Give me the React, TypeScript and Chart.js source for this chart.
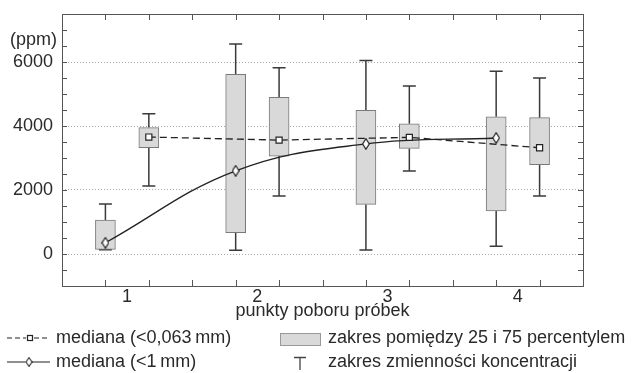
import React, { useEffect, useRef } from "react";
import { Chart, registerables } from "chart.js";

Chart.register(...registerables);

// categories (sampling points)
const groups = ["1", "2", "3", "4"];
const yTickLabels = [0, 2000, 4000, 6000];

// fraction < 1 mm
const coarseMin = [130, 115, 125, 240];
const coarseQ1 = [145, 666, 1550, 1345];
const coarseMedian = [350, 2600, 3440, 3625];
const coarseQ3 = [1060, 5615, 4490, 4290];
const coarseMax = [1560, 6560, 6050, 5710];

// fraction < 0,063 mm
const fineMin = [2125, 1810, 2590, 1810];
const fineQ1 = [3320, 3060, 3300, 2790];
const fineMedian = [3655, 3560, 3645, 3320];
const fineQ3 = [3950, 4896, 4070, 4260];
const fineMax = [4385, 5820, 5250, 5500];

const FONT = "'Liberation Sans', Arial, sans-serif";
const TXT = "#2a2a2a";
const BOX_FILL = "#d9d9d9";
const BOX_EDGE = "#7a7a7a";
const LINE = "#222";

const coarseX = (i: number) => i * 3;
const fineX = (i: number) => i * 3 + 1;

function makeDiamond(w: number, h: number) {
  const c = document.createElement("canvas");
  c.width = w;
  c.height = h;
  const g = c.getContext("2d")!;
  g.beginPath();
  g.moveTo(w / 2, 0.7);
  g.lineTo(w - 0.7, h / 2);
  g.lineTo(w / 2, h - 0.7);
  g.lineTo(0.7, h / 2);
  g.closePath();
  g.fillStyle = "#fff";
  g.fill();
  g.strokeStyle = LINE;
  g.lineWidth = 1.2;
  g.stroke();
  return c;
}

export default function App() {
  const ref = useRef<HTMLCanvasElement | null>(null);

  useEffect(() => {
    const canvas = ref.current;
    if (!canvas) return;
    const diamond = makeDiamond(8, 12);

    const boxes: { x: number; y: [number, number] }[] = [];
    const whisk: { x: number; lo: number; q1: number; q3: number; hi: number }[] = [];
    groups.forEach((_, i) => {
      boxes.push({ x: coarseX(i), y: [coarseQ1[i], coarseQ3[i]] });
      boxes.push({ x: fineX(i), y: [fineQ1[i], fineQ3[i]] });
      whisk.push({ x: coarseX(i), lo: coarseMin[i], q1: coarseQ1[i], q3: coarseQ3[i], hi: coarseMax[i] });
      whisk.push({ x: fineX(i), lo: fineMin[i], q1: fineQ1[i], q3: fineQ3[i], hi: fineMax[i] });
    });

    const whiskerPlugin = {
      id: "whiskers",
      beforeDatasetsDraw(chart: any) {
        const { ctx, scales } = chart;
        const xs = scales.x, ys = scales.y;
        ctx.save();
        ctx.strokeStyle = "#3a3a3a";
        ctx.lineWidth = 1.5;
        whisk.forEach((w) => {
          const px = xs.getPixelForValue(w.x);
          const cap = 6.5;
          ctx.beginPath();
          ctx.moveTo(px, ys.getPixelForValue(w.q3));
          ctx.lineTo(px, ys.getPixelForValue(w.hi));
          ctx.moveTo(px - cap, ys.getPixelForValue(w.hi));
          ctx.lineTo(px + cap, ys.getPixelForValue(w.hi));
          ctx.moveTo(px, ys.getPixelForValue(w.q1));
          ctx.lineTo(px, ys.getPixelForValue(w.lo));
          ctx.moveTo(px - cap, ys.getPixelForValue(w.lo));
          ctx.lineTo(px + cap, ys.getPixelForValue(w.lo));
          ctx.stroke();
        });
        ctx.restore();
      },
    };

    const framePlugin = {
      id: "frame",
      afterDraw(chart: any) {
        const { ctx, chartArea: a, scales } = chart;
        const xs = scales.x, ys = scales.y;
        ctx.save();
        ctx.strokeStyle = "#555";
        ctx.lineWidth = 1;
        ctx.strokeRect(a.left + 0.5, a.top + 0.5, a.right - a.left, a.bottom - a.top);
        ctx.beginPath();
        for (let v = 0; v <= 10; v++) {
          const px = Math.round(xs.getPixelForValue(v)) + 0.5;
          ctx.moveTo(px, a.bottom);
          ctx.lineTo(px, a.bottom - 6);
          ctx.moveTo(px, a.top);
          ctx.lineTo(px, a.top + 6);
        }
        for (let v = -500; v <= 7000; v += 500) {
          const py = Math.round(ys.getPixelForValue(v)) + 0.5;
          ctx.moveTo(a.left, py);
          ctx.lineTo(a.left + 5, py);
          ctx.moveTo(a.right, py);
          ctx.lineTo(a.right - 5, py);
        }
        ctx.stroke();

        // texts
        ctx.fillStyle = TXT;
        ctx.font = `18px ${FONT}`;
        ctx.textBaseline = "middle";
        ctx.textAlign = "center";
        groups.forEach((g, i) => {
          const px = xs.getPixelForValue((coarseX(i) + fineX(i)) / 2);
          ctx.fillText(g, px, a.bottom + 11);
        });
        ctx.textAlign = "right";
        ctx.fillText("(ppm)", 57, 40);
        ctx.textAlign = "center";
        ctx.fillText("punkty poboru próbek", (a.left + a.right) / 2, 311);

        // legend
        ctx.textAlign = "left";
        const r1 = 338, r2 = 362;
        ctx.strokeStyle = LINE;
        ctx.lineWidth = 1.2;
        ctx.setLineDash([5, 3]);
        ctx.beginPath();
        ctx.moveTo(7, r1); ctx.lineTo(26, r1);
        ctx.moveTo(34, r1); ctx.lineTo(50, r1);
        ctx.stroke();
        ctx.setLineDash([]);
        ctx.fillStyle = "#fff";
        ctx.fillRect(27, r1 - 3, 6, 6);
        ctx.strokeRect(27.5, r1 - 2.5, 5, 5);
        ctx.fillStyle = TXT;
        ctx.fillText("mediana (<0,063\u2009mm)", 56, r1);

        ctx.beginPath();
        ctx.moveTo(7, r2); ctx.lineTo(50, r2);
        ctx.stroke();
        ctx.drawImage(diamond, 29 - 3.5, r2 - 5, 7, 10);
        ctx.fillStyle = TXT;
        ctx.fillText("mediana (<1\u2009mm)", 56, r2);

        ctx.fillStyle = BOX_FILL;
        ctx.fillRect(280, 333, 40, 12);
        ctx.strokeStyle = "#999";
        ctx.lineWidth = 1;
        ctx.strokeRect(280.5, 333.5, 40, 12);
        ctx.fillStyle = TXT;
        ctx.fillText("zakres pomiędzy 25 i 75 percentylem", 328, r1);

        ctx.strokeStyle = "#444";
        ctx.lineWidth = 1.3;
        ctx.beginPath();
        ctx.moveTo(294, 357.5); ctx.lineTo(306, 357.5);
        ctx.moveTo(300, 357.5); ctx.lineTo(300, 370);
        ctx.stroke();
        ctx.fillText("zakres zmienności koncentracji", 328, r2);
        ctx.restore();
      },
    };

    const chart = new Chart(canvas, {
      type: "bar",
      data: {
        datasets: [
          {
            type: "line",
            label: "mediana (<0,063 mm)",
            data: groups.map((_, i) => ({ x: fineX(i), y: fineMedian[i] })),
            borderColor: LINE,
            borderWidth: 1.3,
            borderDash: [7, 4],
            pointStyle: "rect",
            pointRadius: 4.3,
            pointBackgroundColor: "#fff",
            pointBorderColor: LINE,
            pointBorderWidth: 1.2,
            order: 0,
          } as any,
          {
            type: "line",
            label: "mediana (<1 mm)",
            data: groups.map((_, i) => ({ x: coarseX(i), y: coarseMedian[i] })),
            borderColor: LINE,
            borderWidth: 1.3,
            tension: 0.4,
            pointStyle: diamond,
            pointRadius: 5,
            order: 0,
          } as any,
          {
            type: "bar",
            label: "zakres pomiędzy 25 i 75 percentylem",
            data: boxes as any,
            backgroundColor: BOX_FILL,
            borderColor: BOX_EDGE,
            borderWidth: 1,
            borderSkipped: false,
            barThickness: 20,
            order: 1,
          } as any,
        ],
      },
      options: {
        animation: false,
        responsive: false,
        layout: { padding: { top: 14, right: 52, left: 0, bottom: 0 } },
        plugins: { legend: { display: false }, tooltip: { enabled: false } },
        scales: {
          x: {
            type: "linear",
            min: -1,
            max: 11,
            offset: false,
            grid: { display: false },
            border: { display: false },
            ticks: { display: false },
            afterFit: (s: any) => {
              s.height = 87;
              s.paddingLeft = 0;
              s.paddingRight = 0;
            },
          },
          y: {
            type: "linear",
            min: -1000,
            max: 7500,
            afterBuildTicks: (s: any) => {
              s.ticks = yTickLabels.map((v) => ({ value: v }));
            },
            afterFit: (s: any) => {
              s.width = 62;
              s.paddingTop = 0;
              s.paddingBottom = 0;
            },
            grid: {
              drawTicks: false,
              color: "#a8a8a8",
              lineWidth: 1,
            },
            border: { display: false, dash: [1, 2] },
            ticks: {
              padding: 9,
              color: TXT,
              font: { size: 18, family: FONT },
              callback: (v: any) => String(v),
            },
          },
        },
      },
      plugins: [whiskerPlugin, framePlugin],
    });
    return () => chart.destroy();
  }, []);

  return (
    <div style={{ position: "fixed", left: 0, top: 0, width: 635, height: 373, background: "#fff" }}>
      <canvas ref={ref} width={635} height={373} />
    </div>
  );
}
